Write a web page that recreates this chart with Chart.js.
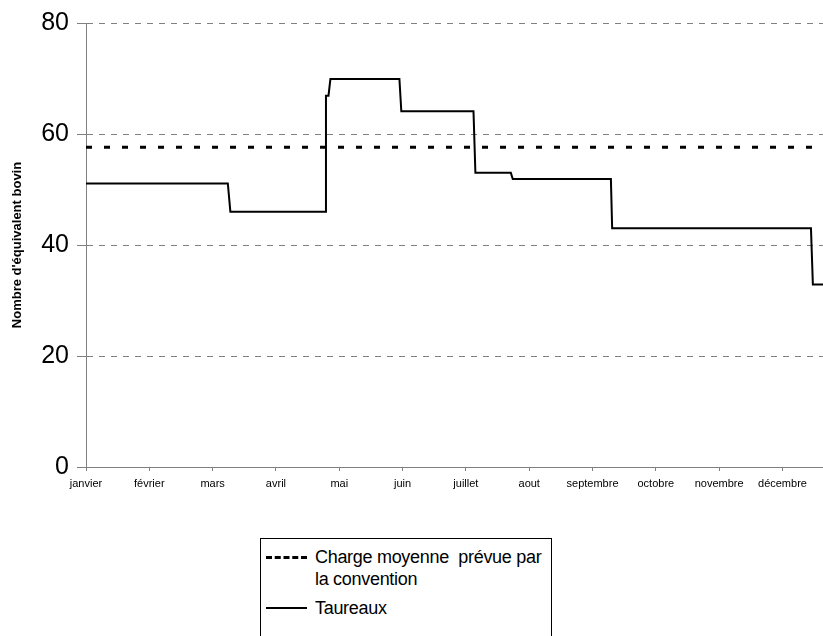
<!DOCTYPE html>
<html>
<head>
<meta charset="utf-8">
<script src="https://cdn.jsdelivr.net/npm/chart.js@4"></script>
<style>
  body { margin: 0; background: #fff; }
  #wrap { position: relative; width: 823px; height: 636px; overflow: hidden; }
  #legend {
    position: absolute; left: 260px; top: 538px; width: 290px; height: 120px;
    border: 1px solid #000; background: #fff;
    font-family: "Liberation Sans", Arial, sans-serif; font-size: 18px; color: #000;
  }
  .sample { position: absolute; left: 5px; width: 41px; }
  .txt { position: absolute; left: 54px; line-height: 22px; white-space: nowrap; letter-spacing: -0.3px; }
</style>
</head>
<body>
<div id="wrap">
  <canvas id="chart" width="823" height="636"></canvas>
  <div id="legend">
    <div class="sample" style="top:17px;border-top:3px dashed #000;"></div>
    <div class="txt" style="top:7px;">Charge moyenne&nbsp; prévue par<br>la convention</div>
    <div class="sample" style="top:68px;border-top:2px solid #000;"></div>
    <div class="txt" style="top:58px;">Taureaux</div>
  </div>
</div>
<script>
// mois (graduations de l'axe x)
const months = ['janvier', 'février', 'mars', 'avril', 'mai', 'juin',
                'juillet', 'aout', 'septembre', 'octobre', 'novembre', 'décembre'];

// position en mois depuis le 1er janvier / nombre d'équivalent bovin
const tauX = [0, 2.24, 2.28, 3.78, 3.79, 3.83, 3.86, 4.95, 4.98, 6.12, 6.15, 6.71, 6.74, 8.29, 8.31, 11.45, 11.48, 11.64];
const tauY = [51.1, 51.1, 46, 46, 66.9, 66.9, 69.9, 69.9, 64.1, 64.1, 53, 53, 51.9, 51.9, 43, 43, 32.9, 32.9];

const chargeMoyenne = 57.6;
const xMax = 11.64;

const taureaux = tauX.map((x, i) => ({ x: x, y: tauY[i] }));

const ctx = document.getElementById('chart').getContext('2d');
const chart = new Chart(ctx, {
    type: 'line',
    data: {
        datasets: [{
            label: 'Charge moyenne  prévue par la convention',
            data: [{ x: 0, y: chargeMoyenne }, { x: xMax, y: chargeMoyenne }],
            borderColor: '#000',
            borderWidth: 3,
            borderDash: [6, 12],
            pointRadius: 0,
            fill: false,
        }, {
            label: 'Taureaux',
            data: taureaux,
            borderColor: '#000',
            borderWidth: 2,
            pointRadius: 0,
            tension: 0,
            fill: false,
        }]
    },
    options: {
        responsive: false,
        animation: false,
        layout: { padding: { left: 0, right: 0, top: 14, bottom: 143 } },
        plugins: {
            legend: { display: false },
            tooltip: { enabled: false },
        },
        scales: {
            x: {
                type: 'linear',
                min: 0,
                max: xMax,
                afterFit: (s) => { s.height = 26; },
                ticks: {
                    stepSize: 1,
                    includeBounds: false,
                    autoSkip: false,
                    maxRotation: 0,
                    padding: 6,
                    color: '#000',
                    font: { family: '"Liberation Sans", Arial, sans-serif', size: 11 },
                    callback: (v) => months[v],
                },
                grid: {
                    drawOnChartArea: false,
                    tickColor: '#808080',
                    tickLength: 4,
                },
                border: { color: '#808080', width: 1 },
            },
            y: {
                min: 0,
                max: 80,
                afterFit: (s) => { s.width = 86; },
                ticks: {
                    stepSize: 20,
                    padding: 8,
                    color: '#000',
                    font: { family: '"Liberation Sans", Arial, sans-serif', size: 25 },
                },
                grid: {
                    color: '#808080',
                    tickColor: '#808080',
                    tickLength: 9,
                    lineWidth: 1,
                },
                border: { color: '#808080', width: 1, dash: [6, 6] },
                title: {
                    display: true,
                    text: "Nombre d'équivalent bovin",
                    color: '#000',
                    padding: { top: 10, bottom: 0 },
                    font: { family: '"Liberation Sans", Arial, sans-serif', size: 13, weight: 'bold' },
                },
            }
        }
    }
});
</script>
</body>
</html>
